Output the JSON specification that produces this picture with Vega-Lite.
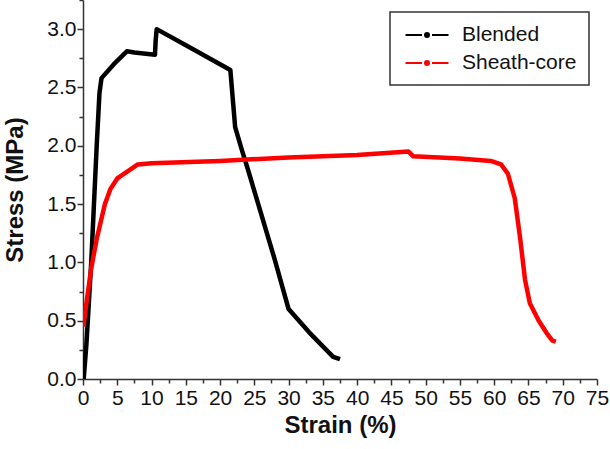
{
  "$schema": "https://vega.github.io/schema/vega-lite/v6.json",
  "width": 514,
  "height": 379,
  "autosize": {"type": "none"},
  "padding": {"left": 83, "top": 0, "right": 13, "bottom": 70},
  "background": "white",
  "config": {
    "view": {"stroke": null},
    "font": "Liberation Sans",
    "axis": {
      "domainColor": "#333333",
      "domainWidth": 1.5,
      "tickColor": "#333333",
      "tickWidth": 1.5,
      "grid": false,
      "labelFont": "Liberation Sans",
      "labelFontSize": 21,
      "labelColor": "#111111",
      "titleFont": "Liberation Sans",
      "titleFontSize": 24,
      "titleFontWeight": "bold",
      "titleColor": "#111111"
    },
    "legend": {
      "labelFont": "Liberation Sans",
      "labelFontSize": 21,
      "labelColor": "#111111"
    }
  },
  "data": {
    "values": [
      {"series": "Blended", "strain": 0.1, "stress": 0.0},
      {"series": "Blended", "strain": 0.3, "stress": 0.15},
      {"series": "Blended", "strain": 0.5, "stress": 0.3},
      {"series": "Blended", "strain": 0.8, "stress": 0.6},
      {"series": "Blended", "strain": 1.2, "stress": 1.0},
      {"series": "Blended", "strain": 1.6, "stress": 1.5},
      {"series": "Blended", "strain": 2.0, "stress": 2.0},
      {"series": "Blended", "strain": 2.4, "stress": 2.45},
      {"series": "Blended", "strain": 2.7, "stress": 2.58},
      {"series": "Blended", "strain": 4.5, "stress": 2.7},
      {"series": "Blended", "strain": 6.4, "stress": 2.81},
      {"series": "Blended", "strain": 7.5, "stress": 2.8},
      {"series": "Blended", "strain": 10.5, "stress": 2.78},
      {"series": "Blended", "strain": 10.6, "stress": 2.9},
      {"series": "Blended", "strain": 10.75, "stress": 3.0},
      {"series": "Blended", "strain": 16.0, "stress": 2.83},
      {"series": "Blended", "strain": 21.5, "stress": 2.65},
      {"series": "Blended", "strain": 22.2, "stress": 2.16},
      {"series": "Blended", "strain": 23.2, "stress": 1.96},
      {"series": "Blended", "strain": 24.1, "stress": 1.79},
      {"series": "Blended", "strain": 28.0, "stress": 1.02},
      {"series": "Blended", "strain": 30.0, "stress": 0.6},
      {"series": "Blended", "strain": 33.0, "stress": 0.4},
      {"series": "Blended", "strain": 36.5, "stress": 0.19},
      {"series": "Blended", "strain": 37.5, "stress": 0.17},
      {"series": "Sheath-core", "strain": 0.05, "stress": 0.45},
      {"series": "Sheath-core", "strain": 0.5, "stress": 0.65},
      {"series": "Sheath-core", "strain": 1.2, "stress": 0.95},
      {"series": "Sheath-core", "strain": 2.0, "stress": 1.2},
      {"series": "Sheath-core", "strain": 3.2, "stress": 1.5},
      {"series": "Sheath-core", "strain": 4.0, "stress": 1.63},
      {"series": "Sheath-core", "strain": 5.0, "stress": 1.72},
      {"series": "Sheath-core", "strain": 6.5, "stress": 1.78},
      {"series": "Sheath-core", "strain": 8.0, "stress": 1.84},
      {"series": "Sheath-core", "strain": 10.0, "stress": 1.85},
      {"series": "Sheath-core", "strain": 20.0, "stress": 1.87},
      {"series": "Sheath-core", "strain": 30.0, "stress": 1.9},
      {"series": "Sheath-core", "strain": 40.0, "stress": 1.92},
      {"series": "Sheath-core", "strain": 47.5, "stress": 1.95},
      {"series": "Sheath-core", "strain": 48.2, "stress": 1.91},
      {"series": "Sheath-core", "strain": 55.0, "stress": 1.89},
      {"series": "Sheath-core", "strain": 59.5, "stress": 1.87},
      {"series": "Sheath-core", "strain": 61.0, "stress": 1.84},
      {"series": "Sheath-core", "strain": 62.0, "stress": 1.76},
      {"series": "Sheath-core", "strain": 63.0, "stress": 1.55},
      {"series": "Sheath-core", "strain": 63.8, "stress": 1.2},
      {"series": "Sheath-core", "strain": 64.5, "stress": 0.85},
      {"series": "Sheath-core", "strain": 65.2, "stress": 0.65},
      {"series": "Sheath-core", "strain": 66.5, "stress": 0.5},
      {"series": "Sheath-core", "strain": 67.7, "stress": 0.39},
      {"series": "Sheath-core", "strain": 68.5, "stress": 0.33},
      {"series": "Sheath-core", "strain": 69.0, "stress": 0.32}
    ]
  },
  "mark": {"type": "line", "strokeWidth": 4.5, "strokeJoin": "round", "strokeCap": "butt", "clip": true},
  "encoding": {
    "x": {
      "field": "strain",
      "type": "quantitative",
      "scale": {"domain": [0, 75], "nice": false},
      "axis": {
        "title": "Strain (%)",
        "values": [0, 2.5, 5, 7.5, 10, 12.5, 15, 17.5, 20, 22.5, 25, 27.5, 30, 32.5, 35, 37.5, 40, 42.5, 45, 47.5, 50, 52.5, 55, 57.5, 60, 62.5, 65, 67.5, 70, 72.5, 75],
        "labelExpr": "round(datum.value * 2) % 10 === 0 ? format(datum.value, 'd') : ''",
        "tickSize": {"condition": {"test": "round(datum.value * 2) % 10 === 0", "value": 6}, "value": 4},
        "labelPadding": 2,
        "labelFlush": false,
        "labelOverlap": false,
        "titlePadding": 5
      }
    },
    "y": {
      "field": "stress",
      "type": "quantitative",
      "scale": {"domain": [0, 3.25], "nice": false},
      "axis": {
        "title": "Stress (MPa)",
        "values": [0, 0.25, 0.5, 0.75, 1, 1.25, 1.5, 1.75, 2, 2.25, 2.5, 2.75, 3, 3.25],
        "labelExpr": "round(datum.value * 4) % 2 === 0 ? format(datum.value, '.1f') : ''",
        "tickSize": {"condition": {"test": "round(datum.value * 4) % 2 === 0", "value": 6}, "value": 4},
        "labelPadding": 1,
        "labelFlush": false,
        "labelOverlap": false,
        "titlePadding": 19
      }
    },
    "color": {
      "field": "series",
      "type": "nominal",
      "scale": {"domain": ["Blended", "Sheath-core"], "range": ["#000000", "#ff0000"]},
      "legend": {
        "title": null,
        "orient": "none",
        "legendX": 307,
        "legendY": 12,
        "strokeColor": "#333333",
        "fillColor": "white",
        "padding": 12,
        "rowPadding": 7,
        "symbolOffset": 14,
        "labelOffset": 24,
        "symbolType": "M-2.15,0L-0.5,0M0.5,0L2.15,0M0.2,0A0.2,0.2 0 1 1 -0.2,0A0.2,0.2 0 1 1 0.2,0M0.09,0A0.09,0.09 0 1 1 -0.09,0A0.09,0.09 0 1 1 0.09,0",
        "symbolSize": 400,
        "symbolStrokeWidth": 2,
        "encode": {"legend": {"update": {"strokeWidth": {"value": 1.5}}}}
      }
    }
  }
}
